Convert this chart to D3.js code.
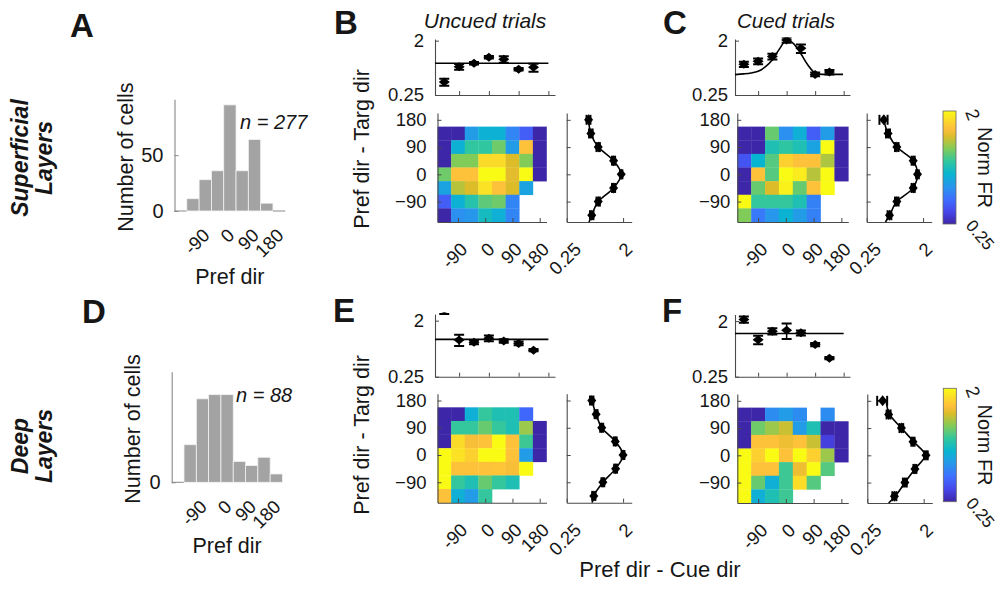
<!DOCTYPE html>
<html><head><meta charset="utf-8">
<script src="https://cdn.jsdelivr.net/npm/d3@7"></script>
<style>
body{margin:0;background:#fff}
svg{display:block}
text{font-family:"Liberation Sans",Arial,Helvetica,sans-serif;fill:#161616}
</style>
</head><body><script>
// ================= DATA =================
const histBins   = [-180,-135,-90,-45,0,45,90,135,180];
const supCounts  = [0,11,28,36,95,36,64,7,0];
const deepCounts = [0,9,20,21,21,5,4,6,2];
const supN = 277, deepN = 88;

const angleTicks = [-90,0,90,180];
const frTicks    = [0.25,2];
const countTicks = [0,50];

const hmCols = [-135,-90,-45,0,45,90,135,180];
const hmRows = [135,90,45,0,-45,-90,-135];
const N = null;
const hmB = [
  [0.25,0.25,0.52,0.61,0.61,0.45,0.36,0.25],
  [0.25,0.61,0.79,0.79,0.95,0.52,1.46,0.25],
  [0.25,1.00,1.00,1.69,1.69,1.26,1.00,0.25],
  [0.95,1.46,1.46,2.00,2.00,1.30,2.00,0.25],
  [0.55,1.15,1.26,1.75,1.46,1.26,0.55,N],
  [0.36,0.61,0.75,0.90,0.95,0.45,N,N],
  [0.25,0.48,0.50,0.68,0.60,0.45,N,N]];
const hmC = [
  [0.25,0.25,0.93,0.48,0.60,0.36,0.52,0.25],
  [0.25,0.25,0.72,0.78,0.72,0.55,2.00,0.25],
  [0.34,0.63,0.88,1.60,1.46,1.46,1.12,0.25],
  [0.25,1.46,0.88,2.00,1.85,1.15,2.00,0.25],
  [0.25,0.93,1.26,1.90,0.93,1.46,2.00,N],
  [2.00,0.80,0.80,0.80,0.72,0.44,N,N],
  [1.00,0.42,0.50,0.62,0.52,0.44,N,N]];
const hmE = [
  [0.25,0.25,0.60,0.80,0.72,0.72,0.38,N],
  [0.25,0.80,0.80,0.93,0.80,0.72,1.07,0.25],
  [0.25,1.69,1.40,1.46,2.00,1.46,0.82,0.25],
  [2.00,1.75,1.60,2.00,2.00,1.46,0.52,0.25],
  [2.00,1.46,1.46,1.46,1.50,1.40,2.00,N],
  [2.00,0.80,0.72,0.93,0.80,0.72,N,N],
  [1.46,0.60,0.52,0.80,N,N,N,N]];
const hmF = [
  [0.25,0.25,0.47,0.52,0.47,N,0.47,N],
  [0.25,0.95,1.07,1.20,0.52,0.72,0.25,0.25],
  [0.25,1.46,1.46,1.35,1.46,1.20,0.30,0.25],
  [2.00,1.60,2.00,1.46,2.00,1.60,1.07,0.25],
  [2.00,1.46,1.46,0.82,1.35,2.00,0.88,N],
  [2.00,0.93,0.60,0.82,1.70,0.88,N,N],
  [2.00,0.60,0.72,0.82,N,N,N,N]];

const topX = [-135,-90,-45,0,45,90,135];
const topB = [0.41,0.74,0.84,1.06,0.98,0.67,0.72];
const topBErr = [0.055,0.08,0.04,0.05,0.12,0.03,0.11];
const topBMean = 0.84;
const topC = [0.81,0.91,1.09,2.05,1.49,0.55,0.60];
const topCErr = [0.08,0.10,0.12,0.20,0.24,0.04,0.05];
const fitCX = [-163,-135,-112.5,-90,-67.5,-45,-22.5,0,22.5,45,67.5,90,112.5,135,178];
const fitCY = [0.545,0.56,0.58,0.62,0.73,0.96,1.46,2.05,1.77,1.21,0.78,0.58,0.55,0.55,0.55];
const topE = [3.0,0.98,0.90,1.04,0.94,0.86,0.67];
const topEErr = [0.45,0.20,0.07,0.11,0.06,0.06,0.03];
const topEMean = 1.0;
const topF = [2.13,1.00,1.37,1.42,1.29,0.83,0.50];
const topFErr = [0.25,0.16,0.16,0.40,0.12,0.05,0.02];
const topFMean = 1.26;

const sideY = [180,135,90,45,0,-45,-90,-135];
const sideB = [0.56,0.61,0.80,1.41,1.87,1.41,0.80,0.63];
const sideBErr = [0.04,0.04,0.05,0.08,0.08,0.08,0.05,0.04];
const sideC = [0.47,0.55,0.76,1.39,1.63,1.39,0.76,0.58];
const sideCErr = [0.07,0.04,0.05,0.08,0.08,0.08,0.05,0.04];
const sideE = [0.63,0.74,0.91,1.50,2.00,1.52,0.95,0.68];
const sideEErr = [0.04,0.04,0.05,0.08,0.10,0.08,0.05,0.04];
const sideF = [0.44,0.55,0.88,1.35,2.18,1.45,1.00,0.68];
const sideFErr = [0.08,0.04,0.06,0.08,0.14,0.08,0.07,0.05];
const fitSideY = [180,135,90,45,0,-45,-90,-135,-157.5];
const fitSideB = [0.56,0.61,0.80,1.41,1.87,1.41,0.80,0.63,0.57];
const fitSideC = [0.47,0.55,0.76,1.39,1.63,1.39,0.76,0.58,0.50];
const fitSideE = [0.63,0.74,0.91,1.50,2.00,1.52,0.95,0.68,0.64];
const fitSideF = [0.50,0.57,0.88,1.38,2.10,1.45,1.00,0.70,0.55];

// ================= SETUP =================
const W = 999, H = 589;
const FONT = '"Liberation Sans",Arial,Helvetica,sans-serif';
const AX = '#4a4a4a';
const TXT = '#161616';
const svg = d3.select('body').append('svg').attr('width', W).attr('height', H);
const defs = svg.append('defs');

// parula colormap
const parulaRGB = [[0.2422,0.1504,0.6603],[0.2803,0.2782,0.9221],[0.2440,0.4358,0.9988],[0.1540,0.5902,0.9218],
  [0.0297,0.7082,0.8163],[0.1938,0.7758,0.6251],[0.5044,0.7993,0.3480],[0.8634,0.7406,0.1596],
  [0.9956,0.7434,0.2371],[0.9892,0.8136,0.1885],[0.9769,0.9839,0.0805]];
const parulaPos = [0,7,14,21,28,35,42,49,53,56,63].map(i => i/63);
const parulaCols = parulaRGB.map(c => d3.rgb(c[0]*255, c[1]*255, c[2]*255).formatHex());
const parula = d3.scaleLinear().domain(parulaPos).range(parulaCols).interpolate(d3.interpolateRgb).clamp(true);
const frT = d3.scaleLog().domain([0.25, 2]).range([0, 1]).clamp(true);
const colorOf = v => parula(frT(v));

function styleAxis(g, fs) {
  g.attr('font-size', fs).attr('font-family', FONT);
  g.selectAll('path.domain').attr('stroke', AX).attr('stroke-width', 1.1);
  g.selectAll('.tick line').attr('stroke', AX);
  g.selectAll('.tick text').attr('fill', TXT);
}

function marker(g, cx, cy, hw, hh) {
  g.append('path').attr('d', `M${cx-hw},${cy}L${cx},${cy-hh}L${cx+hw},${cy}L${cx},${cy+hh}Z`).attr('fill', '#000');
}

// ================= HISTOGRAMS =================
function histogram(cfg, counts, nTxt) {
  const x = d3.scaleLinear().domain([-202.5, 202.5]).range([cfg.x0, cfg.x0 + 405*0.2735]);
  const y = d3.scaleLinear().domain([0, cfg.ymax]).range([cfg.y0, cfg.yTop]);
  const g = svg.append('g');
  histBins.forEach((b, i) => {
    const c = counts[i];
    const x0 = x(b - 22.5), x1 = x(b + 22.5);
    if (c > 0) {
      g.append('rect').attr('x', x0).attr('y', y(c)).attr('width', x1 - x0).attr('height', y(0) - y(c))
        .attr('fill', '#a3a3a3').attr('stroke', '#f2f2f2').attr('stroke-width', 0.8);
    } else {
      g.append('line').attr('x1', x0).attr('x2', x1).attr('y1', y(0)).attr('y2', y(0))
        .attr('stroke', '#888').attr('stroke-width', 1);
    }
  });
  const ya = g.append('g').attr('transform', `translate(${cfg.x0},0)`)
    .call(d3.axisLeft(y).tickValues(countTicks.filter(t => t <= cfg.ymax)).tickSize(-4).tickSizeOuter(0).tickPadding(11));
  styleAxis(ya, 20);
  ya.selectAll('path.domain').attr('stroke', '#888');
  ya.selectAll('.tick line').attr('stroke', '#888');
  angleTicks.forEach(t => {
    g.append('text').attr('transform', `translate(${x(t)+1},${cfg.y0+21}) rotate(-45)`)
      .attr('text-anchor', 'end').attr('dy', '0.35em').attr('font-size', 18.5).text(t);
  });
  g.append('text').attr('transform', `translate(${cfg.ylabX},${(cfg.y0+cfg.yTop)/2+2}) rotate(-90)`)
    .attr('text-anchor', 'middle').attr('font-size', 21.5).text('Number of cells');
  g.append('text').attr('x', x(0)).attr('y', cfg.xlabY).attr('text-anchor', 'middle').attr('font-size', 21.5).text('Pref dir');
  g.append('text').attr('x', cfg.nX).attr('y', cfg.nY).attr('font-size', 20).attr('font-style', 'italic').text(nTxt);
}
histogram({x0:174.5, y0:211, yTop:99.3, ymax:100, ylabX:133, xlabY:284, nX:240, nY:129}, supCounts, `n = ${supN}`);
histogram({x0:171.7, y0:482.3, yTop:371.7, ymax:26.5, ylabX:140, xlabY:553, nX:236, nY:401.5}, deepCounts, `n = ${deepN}`);

// ================= PANELS =================
function drawPanel(P) {
  const g = svg.append('g');
  // ---- top tuning plot ----
  const t = P.top;
  const tx = d3.scaleLinear().domain([-163, 200]).range([t.x0, t.x1]);
  const ty = d3.scaleLog().domain([0.25, t.ymax]).range([t.yBot, t.yTop]);
  const clipId = 'clip' + P.key;
  defs.append('clipPath').attr('id', clipId).append('rect')
    .attr('x', t.x0).attr('y', t.yTop - 1.5).attr('width', t.x1 - t.x0 + 2).attr('height', t.yBot - t.yTop + 1.5);
  const ax1 = g.append('g').attr('transform', `translate(0,${t.yBot})`)
    .call(d3.axisBottom(tx).tickValues(angleTicks).tickSize(-4).tickSizeOuter(0).tickFormat(''));
  styleAxis(ax1, 18.5);
  const ay1 = g.append('g').attr('transform', `translate(${t.x0},0)`)
    .call(d3.axisLeft(ty).tickValues(frTicks).tickSize(-4).tickSizeOuter(0).tickPadding(P.pad).tickFormat(d3.format('')));
  styleAxis(ay1, 18.5);
  const gd = g.append('g').attr('clip-path', `url(#${clipId})`);
  if (P.mean != null) {
    gd.append('line').attr('x1', tx(-163)).attr('x2', tx(180)).attr('y1', ty(P.mean)).attr('y2', ty(P.mean))
      .attr('stroke', '#000').attr('stroke-width', 1.6);
  }
  if (P.fitX) {
    gd.append('path').datum(P.fitX.map((v, i) => [v, P.fitY[i]]))
      .attr('d', d3.line().x(d => tx(d[0])).y(d => ty(d[1])).curve(d3.curveMonotoneX))
      .attr('fill', 'none').attr('stroke', '#000').attr('stroke-width', 1.6);
  }
  topX.forEach((xv, i) => {
    const v = P.topV[i], e = P.topE[i];
    const cx = tx(xv), yHi = ty(v + e), yLo = ty(Math.max(v - e, 0.26));
    gd.append('line').attr('x1', cx).attr('x2', cx).attr('y1', yHi).attr('y2', yLo).attr('stroke', '#000').attr('stroke-width', 1.5);
    [yHi, yLo].forEach(yy => gd.append('line').attr('x1', cx-5).attr('x2', cx+5).attr('y1', yy).attr('y2', yy).attr('stroke', '#000').attr('stroke-width', 2));
    marker(gd, cx, ty(v), 5.5, 4.5);
  });

  // ---- heatmap ----
  const h = P.hm;
  const hx = d3.scaleLinear().domain([-157.5, 202.5]).range([h.x0, h.x1]);
  const hy = d3.scaleLinear().domain([-157.5, 202.5]).range([h.y0, h.y1]);
  hmRows.forEach((rv, i) => hmCols.forEach((cv, j) => {
    const v = P.hmV[i][j];
    if (v == null) return;
    g.append('rect').attr('x', hx(cv - 22.5)).attr('y', hy(rv + 22.5))
      .attr('width', hx(cv + 22.5) - hx(cv - 22.5) + 0.3).attr('height', hy(rv - 22.5) - hy(rv + 22.5) + 0.3)
      .attr('fill', colorOf(v));
  }));
  const ax2 = g.append('g').attr('transform', `translate(0,${h.y0})`)
    .call(d3.axisBottom(hx).tickValues(angleTicks).tickSize(-4).tickSizeOuter(0).tickFormat(''));
  styleAxis(ax2, 18.5);
  const ay2 = g.append('g').attr('transform', `translate(${h.x0},0)`)
    .call(d3.axisLeft(hy).tickValues(angleTicks).tickSize(-4).tickSizeOuter(0).tickPadding(P.pad));
  styleAxis(ay2, 18.5);
  angleTicks.forEach(tv => {
    g.append('text').attr('transform', `translate(${hx(tv)+6},${h.y0+24}) rotate(-45)`)
      .attr('text-anchor', 'end').attr('dy', '0.35em').attr('font-size', 18.5).text(tv);
  });

  // ---- side tuning plot ----
  const s = P.side;
  const sx = d3.scaleLog().domain([0.25, 2.75]).range([s.x0, s.x1]);
  const ax3 = g.append('g').attr('transform', `translate(0,${h.y0})`)
    .call(d3.axisBottom(sx).tickValues(frTicks).tickSize(-4).tickSizeOuter(0).tickFormat(''));
  styleAxis(ax3, 18.5);
  const ay3 = g.append('g').attr('transform', `translate(${s.x0},0)`)
    .call(d3.axisLeft(hy).tickValues(angleTicks).tickSize(-4).tickSizeOuter(0).tickFormat(''));
  styleAxis(ay3, 18.5);
  frTicks.forEach((tv, k) => {
    g.append('text').attr('transform', `translate(${sx(tv)+(k===0?11:6)},${h.y0+24}) rotate(-45)`)
      .attr('text-anchor', 'end').attr('dy', '0.35em').attr('font-size', 18.5).text(d3.format('')(tv));
  });
  g.append('path').datum(fitSideY.map((yv, i) => [P.sideFit[i], yv]))
    .attr('d', d3.line().x(d => sx(d[0])).y(d => hy(d[1])).curve(d3.curveMonotoneY))
    .attr('fill', 'none').attr('stroke', '#000').attr('stroke-width', 1.6);
  sideY.forEach((yv, i) => {
    const v = P.sideV[i], e = P.sideE[i];
    const cy = hy(yv), xL = sx(v - e), xR = sx(v + e);
    g.append('line').attr('x1', xL).attr('x2', xR).attr('y1', cy).attr('y2', cy).attr('stroke', '#000').attr('stroke-width', 1.5);
    [xL, xR].forEach(xx => g.append('line').attr('x1', xx).attr('x2', xx).attr('y1', cy-5).attr('y2', cy+5).attr('stroke', '#000').attr('stroke-width', 2));
    marker(g, sx(v), cy, 4.5, 5.5);
  });

  // ---- colorbar ----
  if (P.cbar) {
    const c = P.cbar;
    const gid = 'grad' + P.key;
    const lg = defs.append('linearGradient').attr('id', gid).attr('x1', 0).attr('y1', 1).attr('x2', 0).attr('y2', 0);
    parulaPos.forEach((p, i) => lg.append('stop').attr('offset', p).attr('stop-color', parulaCols[i]));
    const cs = d3.scaleLog().domain([0.25, 2]).range([c.y1, c.y0]);
    g.append('rect').attr('x', c.x).attr('y', cs(2)).attr('width', 13).attr('height', cs(0.25) - cs(2))
      .attr('fill', `url(#${gid})`).attr('stroke', '#666').attr('stroke-width', 0.8);
    g.append('text').attr('transform', `translate(${c.x+22},${cs(2)+1}) rotate(70)`).attr('font-size', 18.5).text('2');
    g.append('text').attr('transform', `translate(${c.x+22},${cs(0.25)+2}) rotate(50)`).attr('font-size', 17).text('0.25');
    g.append('text').attr('transform', `translate(${c.x+35},${(c.y0+c.y1)/2}) rotate(90)`)
      .attr('text-anchor', 'middle').attr('font-size', 20).text('Norm FR');
  }
}

drawPanel({key:'B', pad:11, mean:topBMean, topV:topB, topE:topBErr, hmV:hmB, sideV:sideB, sideE:sideBErr, sideFit:fitSideB,
  top:{x0:435, x1:555, yTop:39, yBot:95, ymax:2.13},
  hm:{x0:437.5, x1:546.5, y0:222, y1:113}, side:{x0:566.7, x1:631.7}});
drawPanel({key:'C', pad:7, mean:null, fitX:fitCX, fitY:fitCY, topV:topC, topE:topCErr, hmV:hmC, sideV:sideC, sideE:sideCErr, sideFit:fitSideC,
  top:{x0:735, x1:850, yTop:39, yBot:95, ymax:2.13},
  hm:{x0:737.3, x1:848.3, y0:222, y1:113}, side:{x0:866.7, x1:931.7}, cbar:{x:943, y0:111, y1:224}});
drawPanel({key:'E', pad:11, mean:topEMean, topV:topE, topE:topEErr, hmV:hmE, sideV:sideE, sideE:sideEErr, sideFit:fitSideE,
  top:{x0:435, x1:555, yTop:314, yBot:376.7, ymax:2.56},
  hm:{x0:437.5, x1:546.5, y0:502.7, y1:393.7}, side:{x0:566.7, x1:631.7}});
drawPanel({key:'F', pad:7, mean:topFMean, topV:topF, topE:topFErr, hmV:hmF, sideV:sideF, sideE:sideFErr, sideFit:fitSideF,
  top:{x0:735, x1:850, yTop:314.5, yBot:376.7, ymax:2.56},
  hm:{x0:737.3, x1:848.3, y0:503, y1:394}, side:{x0:867.3, x1:932.3}, cbar:{x:943.3, y0:388.3, y1:501.7}});

// ================= TEXT =================
const letters = [['A',70,37],['B',334,34],['C',663,34],['D',82,323],['E',333,322],['F',662,322]];
letters.forEach(([t, x, y]) => svg.append('text').attr('x', x).attr('y', y).attr('font-size', 33).attr('font-weight', 'bold').attr('fill', '#000').text(t));

svg.append('text').attr('x', 485).attr('y', 28).attr('text-anchor', 'middle').attr('font-size', 21).attr('font-style', 'italic').text('Uncued trials');
svg.append('text').attr('x', 786).attr('y', 28).attr('text-anchor', 'middle').attr('font-size', 20.5).attr('font-style', 'italic').text('Cued trials');

function rotLabel(txt, x, y, fs, bold, italic) {
  const t = svg.append('text').attr('transform', `translate(${x},${y}) rotate(-90)`).attr('text-anchor', 'middle').attr('font-size', fs).text(txt);
  if (bold) t.attr('font-weight', 'bold').attr('fill', '#000');
  if (italic) t.attr('font-style', 'italic');
}
rotLabel('Superficial', 28, 158, 23, true, true);
rotLabel('Layers', 52, 158, 23, true, true);
rotLabel('Deep', 28, 446, 23, true, true);
rotLabel('Layers', 52, 446, 23, true, true);
rotLabel('Pref dir - Targ dir', 369, 149, 21.5, false, false);
rotLabel('Pref dir - Targ dir', 369, 435, 21.5, false, false);
svg.append('text').attr('x', 660).attr('y', 577).attr('text-anchor', 'middle').attr('font-size', 22).text('Pref dir - Cue dir');
</script></body></html>
